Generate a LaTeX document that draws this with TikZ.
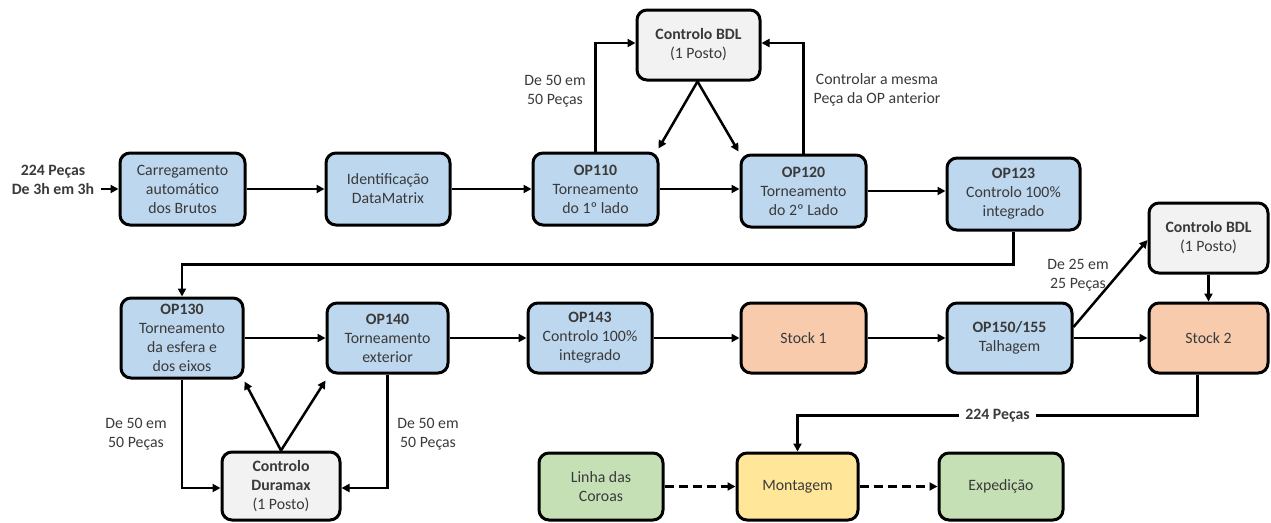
\documentclass[tikz,border=0pt]{standalone}
\usepackage{fontspec}
\setmainfont{Carlito}
\usetikzlibrary{arrows.meta}
\definecolor{bluef}{HTML}{BDD7EE}
\definecolor{grayf}{HTML}{F2F2F2}
\definecolor{orangef}{HTML}{F8CBAD}
\definecolor{greenf}{HTML}{C5E0B4}
\definecolor{yellowf}{HTML}{FFE699}
\definecolor{txt}{HTML}{3A3A3A}
\begin{document}
\begin{tikzpicture}[x=1pt,y=-1pt,
  box/.style={draw=black, line width=3pt, rounded corners=10pt, align=center,
    font=\fontsize{15.8}{19}\selectfont, text=txt, inner sep=2pt},
  blue/.style={box, fill=bluef},
  grey/.style={box, fill=grayf},
  orange/.style={box, fill=orangef},
  green/.style={box, fill=greenf},
  yellow/.style={box, fill=yellowf},
  arr/.style={line width=2.5pt, -{Triangle[length=8pt,width=8pt]}},
  darr/.style={arr, dashed, dash pattern=on 9pt off 5pt},
  lab/.style={font=\fontsize{15.8}{19}\selectfont, text=txt, align=center, inner sep=1pt}]
\useasboundingbox (0,0) rectangle (1271,522);
\fill[white] (0,0) rectangle (1271,522);

% row 1
\node[blue, minimum width=125, minimum height=72] (car) at (182.5,189) {Carregamento\\automático\\dos Brutos};
\node[blue, minimum width=124, minimum height=72] (ide) at (388,189) {Identificação\\DataMatrix};
\node[blue, minimum width=125, minimum height=72] (op110) at (595.5,189) {\textbf{OP110}\\Torneamento\\do 1º lado};
\node[blue, minimum width=125, minimum height=72] (op120) at (803.5,191) {\textbf{OP120}\\Torneamento\\do 2º Lado};
\node[blue, minimum width=133, minimum height=72] (op123) at (1013.5,194) {\textbf{OP123}\\Controlo 100\%\\integrado};
\node[grey, minimum width=123, minimum height=70] (bdl1) at (698.5,45) {\textbf{Controlo BDL}\\(1 Posto)};
\node[grey, minimum width=119, minimum height=70] (bdl2) at (1208.5,238) {\textbf{Controlo BDL}\\(1 Posto)};

% row 2
\node[blue, minimum width=122, minimum height=80] (op130) at (182,338) {\textbf{OP130}\\Torneamento\\da esfera e\\dos eixos};
\node[blue, minimum width=121, minimum height=70] (op140) at (387.5,338) {\textbf{OP140}\\Torneamento\\exterior};
\node[blue, minimum width=124, minimum height=70] (op143) at (590,338) {\textbf{OP143}\\Controlo 100\%\\integrado};
\node[orange, minimum width=125, minimum height=70] (st1) at (803.5,338) {Stock 1};
\node[blue, minimum width=125, minimum height=70] (op150) at (1009.5,338) {\textbf{OP150/155}\\Talhagem};
\node[orange, minimum width=119, minimum height=70] (st2) at (1208.5,338) {Stock 2};

% row 3
\node[grey, minimum width=118, minimum height=68] (dur) at (281,486) {\textbf{Controlo}\\\textbf{Duramax}\\(1 Posto)};
\node[green, minimum width=124, minimum height=67] (lin) at (601,486.5) {Linha das\\Coroas};
\node[yellow, minimum width=121, minimum height=67] (mon) at (797.5,486.5) {Montagem};
\node[green, minimum width=124, minimum height=67] (exp) at (1001,486.5) {Expedição};

% input
\node[lab, font=\fontsize{15.8}{19}\selectfont\bfseries] (in) at (53,180) {224 Peças\\De 3h em 3h};
\draw[arr] ([xshift=6pt]in.east |- car.west) -- (car.west);

% row 1 connectors
\draw[arr] (car) -- (ide);
\draw[arr] (ide) -- (op110);
\draw[arr] (op110.east) -- (op120.west |- op110.east);
\draw[arr] (op120.east) -- (op123.west |- op120.east);
\draw[arr] (op110.north) |- ([yshift=2pt]bdl1.west);
\draw[arr] (op120.north) |- ([yshift=2pt]bdl1.east);
\draw[arr] ([xshift=-1pt]bdl1.south) -- ([shift={(-1pt,3pt)}]op110.north east);
\draw[arr] ([xshift=-1pt]bdl1.south) -- ([shift={(-1pt,2pt)}]op120.north west);
\node[lab] (l1) at (555,91) {De 50 em\\50 Peças};
\node[lab] (l2) at (877,90) {Controlar a mesma\\Peça da OP anterior};

% to row 2
\draw[arr] (op123.south) -- ++(0,33) -| (op130.north);

% row 2 connectors
\draw[arr] (op130.east) -- (op140.west);
\draw[arr] (op140) -- (op143);
\draw[arr] (op143) -- (st1);
\draw[arr] (st1) -- (op150);
\draw[arr] (op150) -- (st2);
\draw[arr] ([yshift=11pt]op150.east) -- ([yshift=-2pt]bdl2.west);
\node[lab] (l3) at (1078,275) {De 25 em\\25 Peças};
\draw[arr] (bdl2.south) -- (st2.north);

% to montagem
\draw[arr] ([xshift=-11pt]st2.south) -- ++(0,41) -| node[pos=0.25, fill=white, lab, font=\fontsize{15.8}{19}\selectfont\bfseries, inner xsep=6pt] (l4) {224 Peças} (mon.north);

% bottom dashed
\draw[darr] (lin) -- (mon);
\draw[darr] (mon) -- (exp);

% duramax
\draw[arr] (op130.south) |- ([yshift=-2pt]dur.west);
\draw[arr] (op140.south) |- ([yshift=-2pt]dur.east);
\draw[arr] (dur.north) -- ([shift={(0pt,-2pt)}]op130.south east);
\draw[arr] (dur.north) -- ([shift={(0pt,-6pt)}]op140.south west);
\node[lab] (l5) at (136,434) {De 50 em\\50 Peças};
\node[lab] (l6) at (428,434) {De 50 em\\50 Peças};
\end{tikzpicture}
\end{document}
